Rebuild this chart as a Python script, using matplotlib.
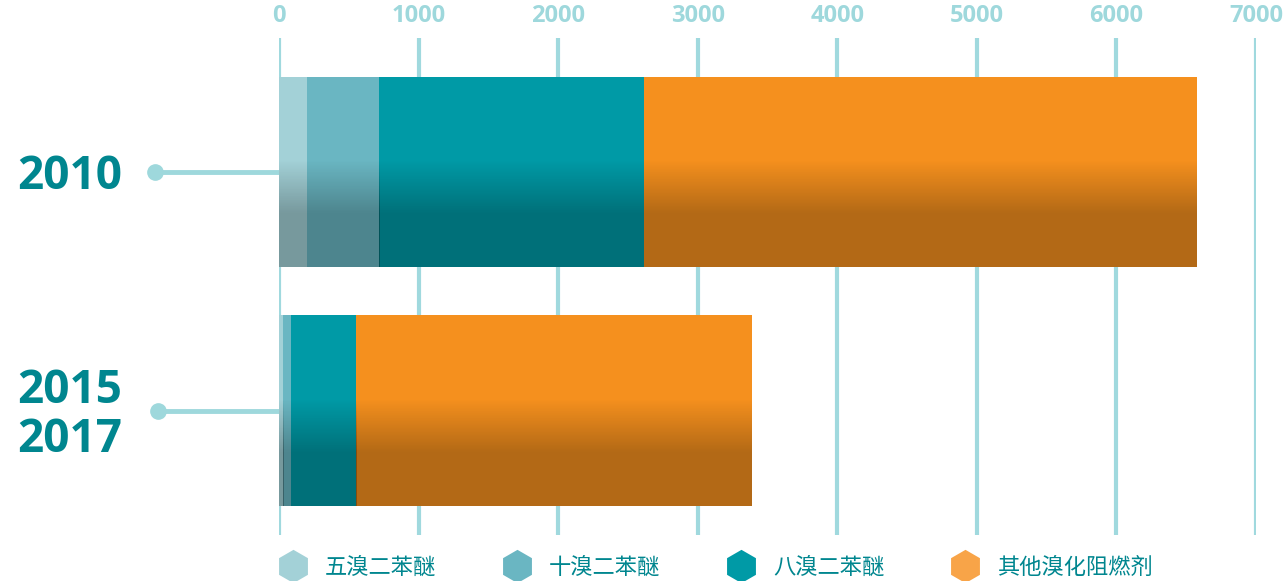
import numpy as np
import matplotlib
matplotlib.use("Agg")
import matplotlib.pyplot as plt
from matplotlib.lines import Line2D

plt.rcParams['font.family'] = ['Open Sans', 'Noto Sans CJK SC', 'DejaVu Sans']

# ---- data ----
years = ["2010", "2015\n2017"]
series = ["五溴二苯醚", "十溴二苯醚", "八溴二苯醚", "其他溴化阻燃剂"]
penta = [200, 31]
deca = [520, 55]
octa = [1895, 466]
other = [3960, 2836]
values = [penta, deca, octa, other]
xticks = [0, 1000, 2000, 3000, 4000, 5000, 6000, 7000]

colors = ["#A3D1D7", "#6AB6C2", "#009AA6", "#F5901E"]
legend_colors = ["#A3D1D7", "#6AB6C2", "#009AA6", "#F8A448"]
teal_text = "#00868F"
light = "#9ED8DC"

W, H = 1287, 581
fig = plt.figure(figsize=(W / 100, H / 100), dpi=100)
ax_left, ax_right = 279 / W, 1256 / W
ax_top, ax_bot = 1 - 38 / H, 1 - 535 / H
ax = fig.add_axes([ax_left, ax_bot, ax_right - ax_left, ax_top - ax_bot])

ypos = np.arange(len(years))
bar_h = 0.797
left = np.zeros(len(years))
patches = []
for vals, c in zip(values, colors):
    bars = ax.barh(ypos, vals, left=left, height=bar_h, color=c, zorder=2, linewidth=0)
    patches.extend(bars.patches)
    left = left + np.array(vals)

# darkening gradient in lower part of each bar
n = 200
frac = np.linspace(0, 1, n)
alpha = np.interp(frac, [0, 0.44, 0.72, 1.0], [0, 0, 0.27, 0.27])
grad = np.zeros((n, 1, 4))
grad[:, 0, 3] = alpha
for p in patches:
    x0, y0, w, h = p.get_x(), p.get_y(), p.get_width(), p.get_height()
    ax.imshow(grad, extent=(x0, x0 + w, y0 + h, y0), origin='upper',
              aspect='auto', interpolation='bilinear', zorder=3)

ax.set_xlim(0, 7000)
ax.set_ylim(1.522, -0.562)

ax.set_xticks(xticks)
ax.set_xticklabels([str(t) for t in xticks])
ax.xaxis.tick_top()
ax.tick_params(axis='x', length=0, pad=7, labelsize=17, labelcolor=light)
for lab in ax.get_xticklabels():
    lab.set_fontweight('bold')
ax.set_yticks([])
ax.grid(axis='x', color="#A0D9DE", linewidth=3, zorder=0)
ax.set_axisbelow(True)
for s in ax.spines.values():
    s.set_visible(False)

# connectors + year labels
px_per_unit = (1256 - 279) / 7000.0
for i, (yr, dot_px) in enumerate(zip(years, [155, 158])):
    xd = (dot_px - 279) / px_per_unit
    ax.plot([xd, 0], [ypos[i], ypos[i]], color=light, linewidth=3.5,
            clip_on=False, zorder=1, solid_capstyle='butt')
    ax.plot([xd], [ypos[i]], 'o', color=light, markersize=11, clip_on=False, zorder=1)
    xt = (17 - 279) / px_per_unit
    ax.text(xt, ypos[i] + 0.02, yr, ha='left', va='center', fontsize=33,
            fontweight='bold', color=teal_text, linespacing=1.05, clip_on=False)

handles = [Line2D([], [], marker='h', linestyle='none', markersize=24,
                  markerfacecolor=c, markeredgecolor='none') for c in legend_colors]
leg = fig.legend(handles, series, loc='center left',
                 bbox_to_anchor=(281.4 / W, 1 - 567 / H), ncol=4, frameon=False,
                 borderpad=0, borderaxespad=0, handlelength=1.0,
                 handletextpad=0.95, columnspacing=3.13,
                 prop={'family': ['Noto Sans CJK SC', 'DejaVu Sans'], 'size': 16,
                       'weight': 'medium'})
for t in leg.get_texts():
    t.set_color(teal_text)

fig.savefig("out.png", dpi=100)
